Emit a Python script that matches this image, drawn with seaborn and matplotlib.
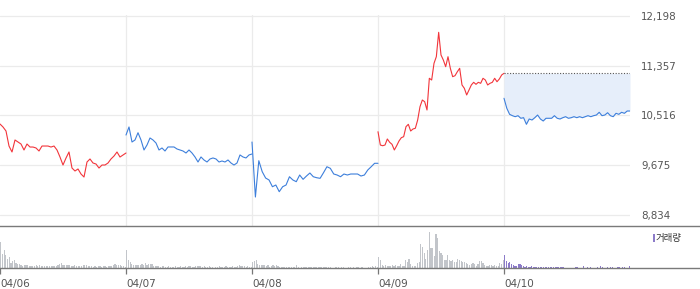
import numpy as np
import pandas as pd
import matplotlib
matplotlib.use("Agg")
import matplotlib.pyplot as plt
from matplotlib.patches import Rectangle
import seaborn as sns

# ---------------- data ----------------
dates = ["04/06", "04/07", "04/08", "04/09", "04/10"]
ytick_values = [8834, 9675, 10516, 11357, 12198]

price_0406 = [10372, 10322, 10254, 10000, 9899, 10102, 10068, 10034, 9933, 10034, 9983, 9983,
              9967, 9916, 10000, 10000, 10000, 9983, 10000, 9933, 9814, 9679, 9797, 9899, 9628,
              9578, 9612, 9527, 9476, 9730, 9781, 9713, 9696, 9628, 9679, 9679, 9713, 9781, 9831,
              9899, 9814, 9848, 9882]
price_0407 = [10186, 10322, 10068, 10102, 10225, 10102, 9933, 10017, 10136, 10102, 10051, 9933,
              9967, 9916, 9984, 9984, 9984, 9950, 9933, 9916, 9882, 9933, 9882, 9815, 9730, 9815,
              9764, 9730, 9781, 9798, 9781, 9730, 9747, 9730, 9764, 9713, 9679, 9713, 9849, 9815,
              9798, 9849, 9865]
price_0408 = [10068, 9138, 9752, 9566, 9459, 9426, 9312, 9341, 9228, 9312, 9341, 9481, 9426,
              9397, 9510, 9437, 9493, 9544, 9481, 9464, 9454, 9549, 9650, 9623, 9527, 9510, 9481,
              9527, 9510, 9527, 9527, 9527, 9493, 9510, 9595, 9650, 9708, 9708]
price_0409 = [10242, 10017, 10005, 10017, 10119, 10063, 10029, 9933, 10005, 10085, 10141, 10158,
              10327, 10367, 10254, 10288, 10300, 10440, 10665, 10778, 10749, 10609, 11145, 11116,
              11398, 11510, 11922, 11539, 11454, 11341, 11510, 11314, 11172, 11189, 11256, 11314,
              11032, 10976, 10863, 10947, 11032, 11077, 11043, 11077, 11060, 11145, 11116, 11032,
              11060, 11077, 11145, 11087, 11133, 11201, 11229]
price_0410 = [10807, 10638, 10536, 10513, 10496, 10513, 10469, 10479, 10367, 10457, 10440, 10479,
              10524, 10457, 10423, 10469, 10469, 10469, 10513, 10469, 10457, 10479, 10496, 10469,
              10479, 10496, 10479, 10496, 10479, 10496, 10513, 10496, 10513, 10524, 10570, 10513,
              10524, 10563, 10513, 10496, 10553, 10536, 10570, 10553, 10592, 10592]

volume_0406 = [80, 44, 54, 40, 27, 34, 17, 22, 26, 17, 14, 12, 10, 7, 9, 10, 9, 7, 6, 6,
               7, 9, 7, 9, 6, 6, 6, 6, 6, 7, 6, 6, 6, 7, 9, 12, 16, 10, 9, 10,
               9, 9, 6, 6, 10, 7, 7, 7, 8, 9, 10, 10, 8, 7, 6, 5, 6, 5, 6, 6,
               5, 6, 6, 5, 6, 6, 7, 10, 14, 10, 9, 9, 7, 6, 5]
volume_0407 = [54, 24, 20, 14, 10, 9, 9, 10, 9, 14, 10, 17, 9, 12, 12, 12, 7, 6, 6, 6,
               5, 6, 7, 5, 5, 6, 5, 5, 5, 6, 5, 5, 6, 5, 5, 6, 5, 7, 6, 5,
               5, 6, 7, 6, 6, 5, 6, 5, 5, 6, 5, 5, 0, 5, 5, 6, 5, 5, 5, 6,
               5, 5, 5, 6, 5, 5, 6, 9, 7, 6, 6, 5, 6, 5, 5]
volume_0408 = [18, 22, 24, 12, 10, 9, 9, 10, 8, 10, 5, 7, 10, 7, 10, 6, 4, 4, 4, 4,
               4, 4, 4, 4, 4, 4, 10, 4, 0, 4, 4, 4, 4, 4, 4, 4, 4, 4, 4, 4,
               4, 4, 4, 4, 4, 4, 4, 0, 0, 4, 4, 4, 0, 4, 4, 0, 0, 4, 4, 0,
               4, 0, 4, 4, 0, 4, 0, 0, 0, 4, 4, 6, 4, 8, 4]
volume_0409 = [35, 24, 10, 8, 10, 8, 8, 8, 10, 7, 10, 7, 8, 12, 8, 8, 25, 20, 27, 12,
               7, 7, 8, 15, 20, 72, 65, 45, 27, 55, 108, 60, 62, 38, 102, 92, 52, 45, 40, 25,
               25, 40, 25, 22, 25, 20, 20, 28, 24, 22, 18, 20, 15, 12, 10, 12, 17, 12, 8, 12,
               23, 22, 15, 10, 8, 8, 10, 10, 8, 10, 8, 8, 15, 12, 25]
volume_0410 = [40, 22, 15, 20, 12, 10, 7, 7, 13, 12, 10, 8, 5, 7, 5, 4, 7, 4, 4, 4,
               4, 4, 4, 4, 4, 4, 4, 4, 4, 4, 4, 4, 4, 4, 4, 4, 0, 0, 0, 0,
               0, 0, 5, 4, 0, 0, 0, 7, 0, 4, 0, 4, 0, 0, 0, 4, 0, 7, 4, 0,
               0, 4, 0, 4, 4, 0, 0, 4, 4, 0, 4, 4, 0, 0, 7]

prices = [price_0406, price_0407, price_0408, price_0409, price_0410]
volumes = [volume_0406, volume_0407, volume_0408, volume_0409, volume_0410]
day_colors = ["#f2353b", "#3d7fdb", "#3d7fdb", "#f2353b", "#3d7fdb"]
volume_label = "거래량"

# ---------------- figure ----------------
sns.set_theme(style="white")
plt.rcParams["font.family"] = ["DejaVu Sans", "Noto Sans CJK KR"]

W, H = 700, 289
fig = plt.figure(figsize=(W / 100, H / 100), dpi=100)

def fy(py):
    return (H - py) / H

# price panel
p_top, p_bot = 15, 225.7
axp = fig.add_axes([0, fy(p_bot), 630 / W, fy(p_top) - fy(p_bot)])
per_px = (12198 - 8834) / 199.0
axp.set_xlim(0, 5)
axp.set_ylim(8834 - (p_bot - 215) * per_px, 12198 + 1 * per_px)

for d, vals in enumerate(prices):
    x = d + np.linspace(0, 1, len(vals))
    df = pd.DataFrame({"t": x, "price": vals})
    sns.lineplot(data=df, x="t", y="price", ax=axp, color=day_colors[d],
                 linewidth=0.8, legend=False)

# last day: shaded area versus previous close
prev_close = price_0409[-1]
x5 = 4 + np.linspace(0, 1, len(price_0410))
axp.fill_between(x5, price_0410, prev_close, color="#e6eefa", linewidth=0, zorder=1)
axp.plot([4, 5], [prev_close, prev_close], color="#555555", linestyle=(0, (1, 1.5)),
         linewidth=0.8, zorder=2)

axp.set_xticks([1, 2, 3, 4])
axp.set_xticklabels([])
axp.set_yticks(ytick_values)
axp.set_yticklabels([f"{v:,}" for v in ytick_values])
axp.yaxis.tick_right()
axp.tick_params(axis="y", length=0, pad=8, labelsize=7.4, labelcolor="#555555")
axp.tick_params(axis="x", length=0)
axp.grid(True, color="#ebebeb", linewidth=0.9)
axp.set_axisbelow(True)
for s in axp.spines.values():
    s.set_visible(False)
axp.set_xlabel("")
axp.set_ylabel("")
axp.patch.set_alpha(0)

# volume panel
v_top, v_bot = 225.7, 268.3
axv = fig.add_axes([0, fy(v_bot), 1.0, fy(v_top) - fy(v_bot)])
axv.set_xlim(0, 5 * W / 630)
axv.set_ylim(0, 128)
for d, vols in enumerate(volumes):
    n = len(vols)
    xb = d + (np.arange(n) + 0.5) / n
    col = "#8c7bc9" if d == 4 else "#c2c5ca"
    axv.bar(xb, vols, width=0.7 / n, color=col, linewidth=0)

axv.set_yticks([])
axv.set_xticks([0, 1, 2, 3, 4])
axv.set_xticklabels(dates)
for lab in axv.get_xticklabels():
    lab.set_horizontalalignment("left")
axv.tick_params(axis="x", direction="out", length=4, width=0.9, color="#777777",
                pad=4, labelsize=7.5, labelcolor="#555555", bottom=True)
for side in ["left", "right"]:
    axv.spines[side].set_visible(False)
for side in ["top", "bottom"]:
    axv.spines[side].set_color("#7a7a7a")
    axv.spines[side].set_linewidth(1.0)
axv.patch.set_alpha(0)

# volume legend
fig.patches.append(Rectangle((652.7 / W, fy(241.7)), 2.0 / W, 7.4 / H,
                             transform=fig.transFigure, color="#8c7bc9", linewidth=0))
fig.text(656 / W, fy(238), volume_label, ha="left", va="center", fontsize=6.8,
         color="#333333", family=["Noto Sans CJK KR", "DejaVu Sans"])

fig.savefig("out.png", dpi=100)
